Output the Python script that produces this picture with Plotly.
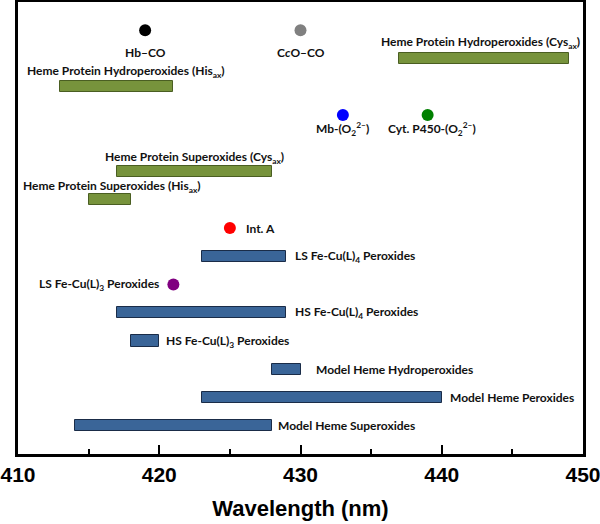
import plotly.graph_objects as go

# ---------------- data ----------------
# green (heme protein) bars: wavelength ranges (nm) and row levels
green_names = ["Heme Protein Hydroperoxides (Cys<sub>ax</sub>)",
               "Heme Protein Hydroperoxides (His<sub>ax</sub>)",
               "Heme Protein Superoxides (Cys<sub>ax</sub>)",
               "Heme Protein Superoxides (His<sub>ax</sub>)"]
green_start = [437, 413, 417, 415]
green_end = [449, 421, 428, 418]
green_row = [14, 13, 10, 9]

# blue (model / Fe-Cu) bars
blue_names = ["LS Fe-Cu(L)<sub>4</sub> Peroxides",
              "HS Fe-Cu(L)<sub>4</sub> Peroxides",
              "HS Fe-Cu(L)<sub>3</sub> Peroxides",
              "Model Heme Hydroperoxides",
              "Model Heme Peroxides",
              "Model Heme Superoxides"]
blue_start = [423, 417, 418, 428, 423, 414]
blue_end = [429, 429, 420, 430, 440, 428]
blue_row = [7, 5, 4, 3, 2, 1]

# single-wavelength points
dot_names = ["Hb–CO", "C<i>c</i>O–CO", "Mb-(O<sub>2</sub><sup>2–</sup>)",
             "Cyt. P450-(O<sub>2</sub><sup>2–</sup>)", "Int. A",
             "LS Fe-Cu(L)<sub>3</sub> Peroxides"]
dot_x = [419, 430, 433, 439, 425, 421]
dot_row = [15, 15, 12, 12, 8, 6]

x_ticks = [410, 420, 430, 440, 450]

# ---------------- styles ----------------
dot_colors = ["#000000", "#808080", "#0000FF", "#008000", "#FF0000", "#800080"]
# label placement: (mode, xshift px, yshift px)
green_lab = [("above", -4, 16), ("above", 9, 15), ("above", 0, 14), ("above", 2, 13)]
blue_lab = [("right", 7, 0), ("right", 7, 0), ("right", 5, 0), ("right", 13, 0),
            ("right", 6, 0), ("right", 4, 0)]
dot_lab = [("below", 0, -22), ("below", 0, -22), ("below", 0, -14), ("below", 4, -14),
           ("right", 14, 0), ("left", -12, 0)]

LFONT = dict(family="Lato, Noto Sans, sans-serif", size=12, color="#111111", weight="bold")

fig = go.Figure()

fig.add_trace(go.Bar(
    orientation="h", y=green_row,
    x=[e - s for s, e in zip(green_start, green_end)], base=green_start,
    width=0.4, marker=dict(color="#77933C", line=dict(color="#4A5E22", width=1)),
    hoverinfo="skip", showlegend=False))
fig.add_trace(go.Bar(
    orientation="h", y=blue_row,
    x=[e - s for s, e in zip(blue_start, blue_end)], base=blue_start,
    width=0.4, marker=dict(color="#3A6598", line=dict(color="#1A2C48", width=1)),
    hoverinfo="skip", showlegend=False))
fig.add_trace(go.Scatter(
    x=dot_x, y=dot_row, mode="markers",
    marker=dict(size=12, color=dot_colors, line=dict(width=0)),
    hoverinfo="skip", showlegend=False))


def add_label(text, xs, xe, row, spec):
    mode, dx, dy = spec
    if mode == "above" or mode == "below":
        fig.add_annotation(x=(xs + xe) / 2, y=row, text=text, showarrow=False,
                           xanchor="center", yanchor="middle", xshift=dx, yshift=dy, font=LFONT)
    elif mode == "right":
        fig.add_annotation(x=xe, y=row, text=text, showarrow=False,
                           xanchor="left", yanchor="middle", xshift=dx, yshift=dy, font=LFONT)
    else:
        fig.add_annotation(x=xs, y=row, text=text, showarrow=False,
                           xanchor="right", yanchor="middle", xshift=dx, yshift=dy, font=LFONT)


for n, s, e, r, sp in zip(green_names, green_start, green_end, green_row, green_lab):
    add_label(n, s, e, r, sp)
for n, s, e, r, sp in zip(blue_names, blue_start, blue_end, blue_row, blue_lab):
    add_label(n, s, e, r, sp)
for n, xv, r, sp in zip(dot_names, dot_x, dot_row, dot_lab):
    add_label(n, xv, xv, r, sp)

fig.update_layout(
    width=600, height=524,
    margin=dict(l=18, r=17, t=2, b=70),
    paper_bgcolor="white", plot_bgcolor="white",
    bargap=0,
    xaxis=dict(
        range=[410, 450], tickvals=x_ticks, ticktext=[str(v) for v in x_ticks],
        ticks="inside", ticklen=9, tickwidth=2, tickcolor="black",
        minor=dict(ticks="inside", ticklen=5, tickwidth=1.5, tickcolor="black", dtick=5, tick0=410),
        showline=True, linewidth=2.5, linecolor="black", mirror=True,
        showgrid=False, zeroline=False, automargin=False,
        ticklabeloverflow="allow",
        tickfont=dict(family="Liberation Sans, Arial, sans-serif", size=21, color="black", weight="bold"),
        ticklabelstandoff=0,
        title=dict(text="Wavelength (nm)", standoff=16,
                   font=dict(family="Liberation Sans, Arial, sans-serif", size=22, color="black", weight="bold")),
    ),
    yaxis=dict(
        range=[0, 16], showticklabels=False, ticks="", showgrid=False, zeroline=False,
        showline=True, linewidth=2.5, linecolor="black", mirror=True, automargin=False,
    ),
)

fig.write_html("out.html", config={"displayModeBar": False},
               post_script="document.body.style.margin='0';document.body.style.overflow='hidden';")
